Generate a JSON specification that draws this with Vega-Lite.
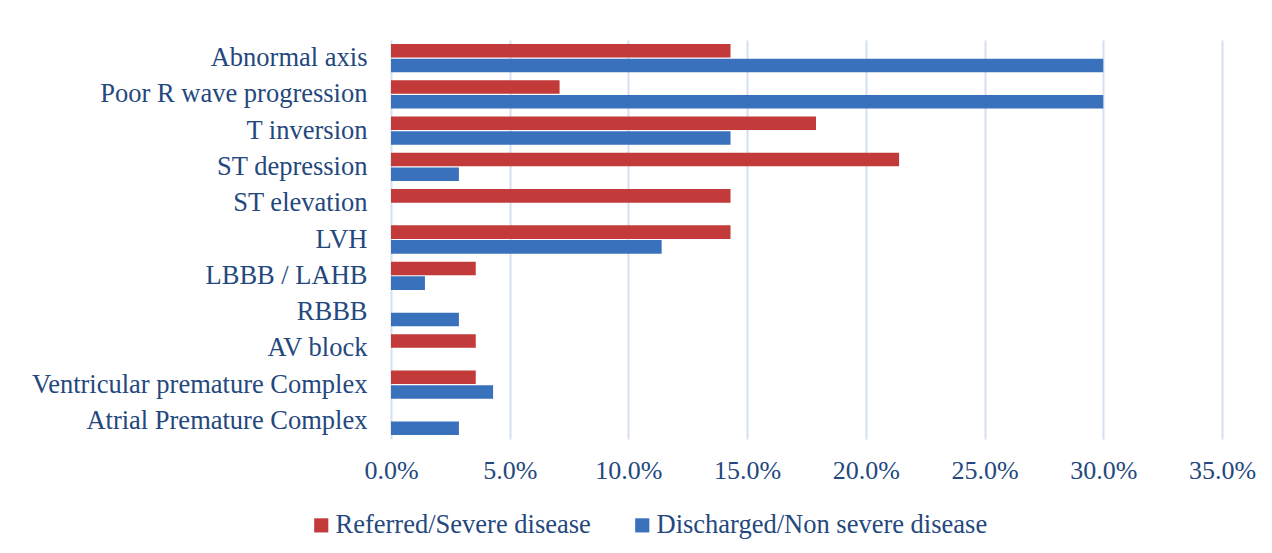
{
  "$schema": "https://vega.github.io/schema/vega-lite/v6.json",
  "autosize": "none",
  "width": 831,
  "height": 399,
  "padding": {"left": 391, "top": 40, "right": 50, "bottom": 114},
  "background": "#ffffff",
  "data": {
    "values": [
      {"finding": "Abnormal axis", "group": "Referred/Severe disease", "pct": 0.143},
      {"finding": "Abnormal axis", "group": "Discharged/Non severe disease", "pct": 0.300},
      {"finding": "Poor R wave progression", "group": "Referred/Severe disease", "pct": 0.071},
      {"finding": "Poor R wave progression", "group": "Discharged/Non severe disease", "pct": 0.300},
      {"finding": "T inversion", "group": "Referred/Severe disease", "pct": 0.179},
      {"finding": "T inversion", "group": "Discharged/Non severe disease", "pct": 0.143},
      {"finding": "ST depression", "group": "Referred/Severe disease", "pct": 0.214},
      {"finding": "ST depression", "group": "Discharged/Non severe disease", "pct": 0.0286},
      {"finding": "ST elevation", "group": "Referred/Severe disease", "pct": 0.143},
      {"finding": "ST elevation", "group": "Discharged/Non severe disease", "pct": 0},
      {"finding": "LVH", "group": "Referred/Severe disease", "pct": 0.143},
      {"finding": "LVH", "group": "Discharged/Non severe disease", "pct": 0.114},
      {"finding": "LBBB / LAHB", "group": "Referred/Severe disease", "pct": 0.0357},
      {"finding": "LBBB / LAHB", "group": "Discharged/Non severe disease", "pct": 0.0143},
      {"finding": "RBBB", "group": "Referred/Severe disease", "pct": 0},
      {"finding": "RBBB", "group": "Discharged/Non severe disease", "pct": 0.0286},
      {"finding": "AV block", "group": "Referred/Severe disease", "pct": 0.0357},
      {"finding": "AV block", "group": "Discharged/Non severe disease", "pct": 0},
      {"finding": "Ventricular premature Complex", "group": "Referred/Severe disease", "pct": 0.0357},
      {"finding": "Ventricular premature Complex", "group": "Discharged/Non severe disease", "pct": 0.043},
      {"finding": "Atrial Premature Complex", "group": "Referred/Severe disease", "pct": 0},
      {"finding": "Atrial Premature Complex", "group": "Discharged/Non severe disease", "pct": 0.0286}
    ]
  },
  "mark": {"type": "bar"},
  "encoding": {
    "y": {
      "field": "finding",
      "type": "nominal",
      "sort": null,
      "scale": {"paddingInner": 0.22, "paddingOuter": 0.11},
      "axis": {
        "title": null,
        "ticks": false,
        "domain": false,
        "labelPadding": 24,
        "labelFont": "Liberation Serif",
        "labelFontSize": 26.5,
        "labelColor": "#24487d",
        "labelLimit": 400
      }
    },
    "yOffset": {
      "field": "group",
      "type": "nominal",
      "sort": ["Referred/Severe disease", "Discharged/Non severe disease"],
      "scale": {"paddingInner": 0.08}
    },
    "x": {
      "field": "pct",
      "type": "quantitative",
      "scale": {"domain": [0, 0.35], "nice": false},
      "axis": {
        "title": null,
        "format": ".1%",
        "values": [0, 0.05, 0.1, 0.15, 0.2, 0.25, 0.3, 0.35],
        "ticks": false,
        "domain": false,
        "grid": true,
        "gridColor": "#d5e0f0",
        "gridWidth": 2,
        "labelPadding": 18,
        "labelAlign": "center",
        "labelFlush": false,
        "labelBound": false,
        "labelOverlap": false,
        "labelFont": "Liberation Serif",
        "labelFontSize": 26,
        "labelColor": "#24487d"
      }
    },
    "color": {
      "field": "group",
      "type": "nominal",
      "sort": ["Referred/Severe disease", "Discharged/Non severe disease"],
      "scale": {
        "domain": ["Referred/Severe disease", "Discharged/Non severe disease"],
        "range": ["#c23a39", "#3a71bd"]
      },
      "legend": {
        "title": null,
        "orient": "none",
        "legendX": -83,
        "legendY": 472,
        "direction": "horizontal",
        "symbolType": "square",
        "symbolSize": 200,
        "symbolStrokeWidth": 0,
        "labelFont": "Liberation Serif",
        "labelFontSize": 26.5,
        "labelColor": "#24487d",
        "labelOffset": 1,
        "columnPadding": 38,
        "labelLimit": 500
      }
    }
  },
  "config": {
    "view": {"stroke": null}
  }
}
